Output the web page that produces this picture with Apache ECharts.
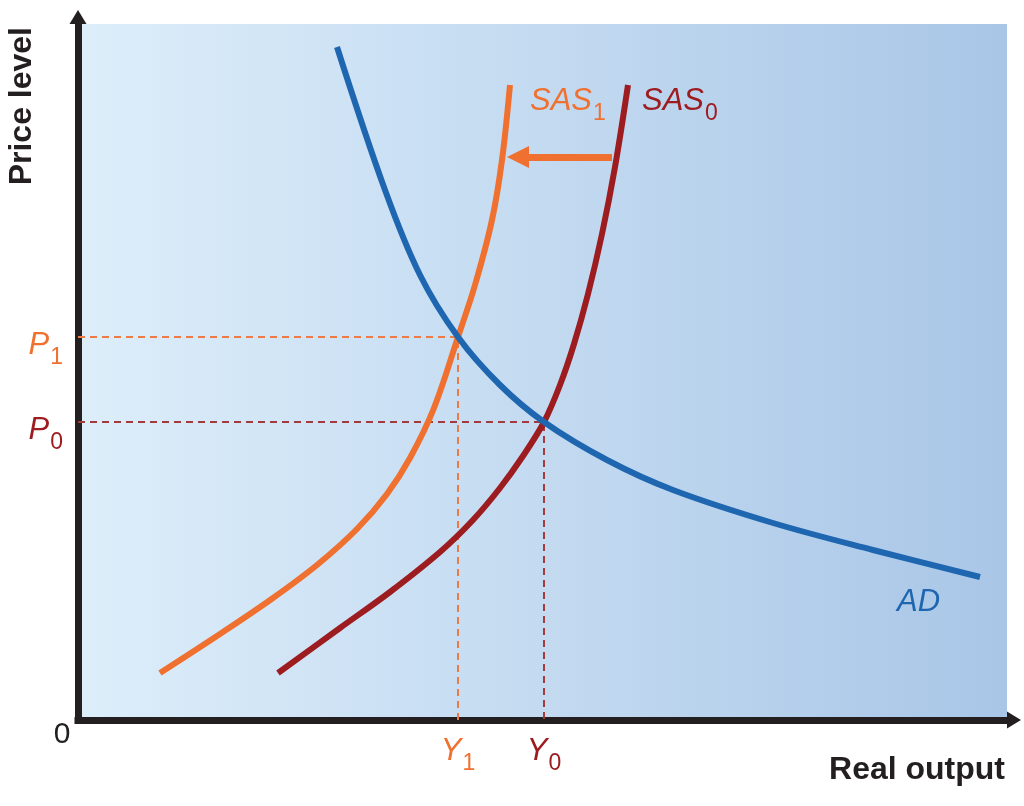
<!DOCTYPE html>
<html><head><meta charset="utf-8">
<script src="https://cdn.jsdelivr.net/npm/echarts@6/dist/echarts.min.js"></script>
<style>html,body{margin:0;padding:0;background:#fff}#chart{width:1024px;height:806px}</style>
</head><body><div id="chart"></div>
<script>
// Axis extents (arbitrary units)
const xMax = 929, yMax = 696;
// Curves [real output, price level]
const adCurve   = [[259,673],[307,530],[342,445],[380,383],[422,335],[466,298],[529,260],[595,230],[695,197],[795,170],[902,143]];
const sas0Curve = [[200,47],[262,92],[312,128],[362,168],[395,200],[422,232],[445,264],[466,298],[482,335],[496,376],[510,426],[524,486],[537,553],[550,635]];
const sas1Curve = [[82,47],[145,88],[195,122],[239,155],[279,191],[309,226],[332,262],[356,312],[380,383],[397,435],[414,500],[424,560],[432,635]];
// Equilibria [Y, P]
const eq0 = [466, 298];
const eq1 = [380, 383];
// Shift arrow from SAS0 towards SAS1
const shiftArrow = [[534,563],[440,563]];
const axisNames = ['Real output', 'Price level'];

const ORANGE = '#f0702f', RED = '#9d1c20', BLUE = '#1f66b0', DARK = '#231f20';
const FONT = '"Liberation Sans", Arial, Helvetica, sans-serif';
const MAIN = 31, SUB = 23;

function mainSt(color, padTop) { return {fontSize: MAIN, fontStyle: 'italic', fontFamily: FONT, color: color, lineHeight: 30, padding: [padTop, 0, 0, 0], verticalAlign: 'top'}; }
function subSt(color, padTop) { return {fontSize: SUB, fontStyle: 'normal', fontFamily: FONT, color: color, lineHeight: 22, padding: [padTop, 0, 0, 1], verticalAlign: 'top'}; }

const chart = echarts.init(document.getElementById('chart'), null, {renderer: 'canvas'});

const dashLine = (pt, color) => ({
  type: 'line', data: [[0, pt[1]], [pt[0], pt[1]], [pt[0], 0]],
  showSymbol: false, silent: true, z: 1,
  lineStyle: {color: color, width: 2, type: [7, 5]}
});

const curve = (data, color, label, labelOpt) => ({
  type: 'line', data: data, smooth: 0.35, showSymbol: false, silent: true, z: 3,
  lineStyle: {color: color, width: 6, cap: 'butt'},
  endLabel: Object.assign({show: true, formatter: label, rich: labelOpt.rich}, labelOpt.pos)
});

chart.setOption({
  animation: false,
  grid: {left: 78, right: 17, top: 24, bottom: 86, show: true, borderWidth: 0,
    backgroundColor: new echarts.graphic.LinearGradient(0, 0, 1, 0, [
      {offset: 0, color: '#ddeefa'}, {offset: 1, color: '#a9c6e7'}])},
  xAxis: {
    type: 'value', min: 0, max: xMax,
    name: axisNames[0], nameLocation: 'end', nameGap: -2,
    nameTextStyle: {fontFamily: FONT, fontWeight: 'bold', fontSize: 32, color: DARK, align: 'right', verticalAlign: 'top', padding: [34, 0, 0, 0]},
    axisLine: {show: true, symbol: ['none', 'triangle'], symbolSize: [17, 14], symbolOffset: [0, 7],
      lineStyle: {color: DARK, width: 7, cap: 'square'}},
    axisTick: {show: false}, splitLine: {show: false},
    axisLabel: {
      customValues: [0, eq1[0], eq0[0]], margin: 0,
      formatter: v => v === 0 ? '{z|0}' : (v === eq1[0] ? '{a|Y}{b|1}' : '{c|Y}{d|0}'),
      rich: {
        z: {fontSize: 30, fontFamily: FONT, color: DARK, lineHeight: 30, padding: [0, 32, 0, 0]},
        a: mainSt(ORANGE, 16), b: subSt(ORANGE, 32),
        c: mainSt(RED, 16), d: subSt(RED, 32)
      }
    }
  },
  yAxis: {
    type: 'value', min: 0, max: yMax,
    name: axisNames[1], nameLocation: 'end', nameRotate: 90, nameGap: -3,
    nameTextStyle: {fontFamily: FONT, fontWeight: 'bold', fontSize: 32, color: DARK, align: 'right', verticalAlign: 'bottom', padding: [0, 0, 40, 0]},
    axisLine: {show: true, symbol: ['none', 'triangle'], symbolSize: [17, 14], symbolOffset: [0, 7],
      lineStyle: {color: DARK, width: 7, cap: 'square'}},
    axisTick: {show: false}, splitLine: {show: false},
    axisLabel: {
      customValues: [eq0[1], eq1[1]], margin: 15,
      formatter: v => v === eq1[1] ? '{a|P}{b|1}' : '{c|P}{d|0}',
      rich: {
        a: mainSt(ORANGE, 8), b: subSt(ORANGE, 24),
        c: mainSt(RED, 8), d: subSt(RED, 24)
      }
    }
  },
  series: [
    dashLine(eq1, '#f07a45'),
    dashLine(eq0, '#a33a3c'),
    curve(sas1Curve, ORANGE, '{a|SAS}{b|1}', {rich: {a: mainSt(ORANGE, 8), b: subSt(ORANGE, 24)}, pos: {position: 'right', distance: 20, offset: [0, 8]}}),
    curve(sas0Curve, RED, '{a|SAS}{b|0}', {rich: {a: mainSt(RED, 8), b: subSt(RED, 24)}, pos: {position: 'right', distance: 14, offset: [0, 8]}}),
    curve(adCurve, BLUE, '{a|AD}', {rich: {a: mainSt(BLUE, 0)}, pos: {position: 'right', distance: 5, offset: [-88, 25]}}),
    {
      type: 'lines', coordinateSystem: 'cartesian2d', silent: true, z: 4,
      symbol: ['none', 'triangle'], symbolSize: 22,
      lineStyle: {color: ORANGE, width: 7, opacity: 1, curveness: 0},
      data: [{coords: shiftArrow}]
    }
  ]
});
</script>
</body></html>
